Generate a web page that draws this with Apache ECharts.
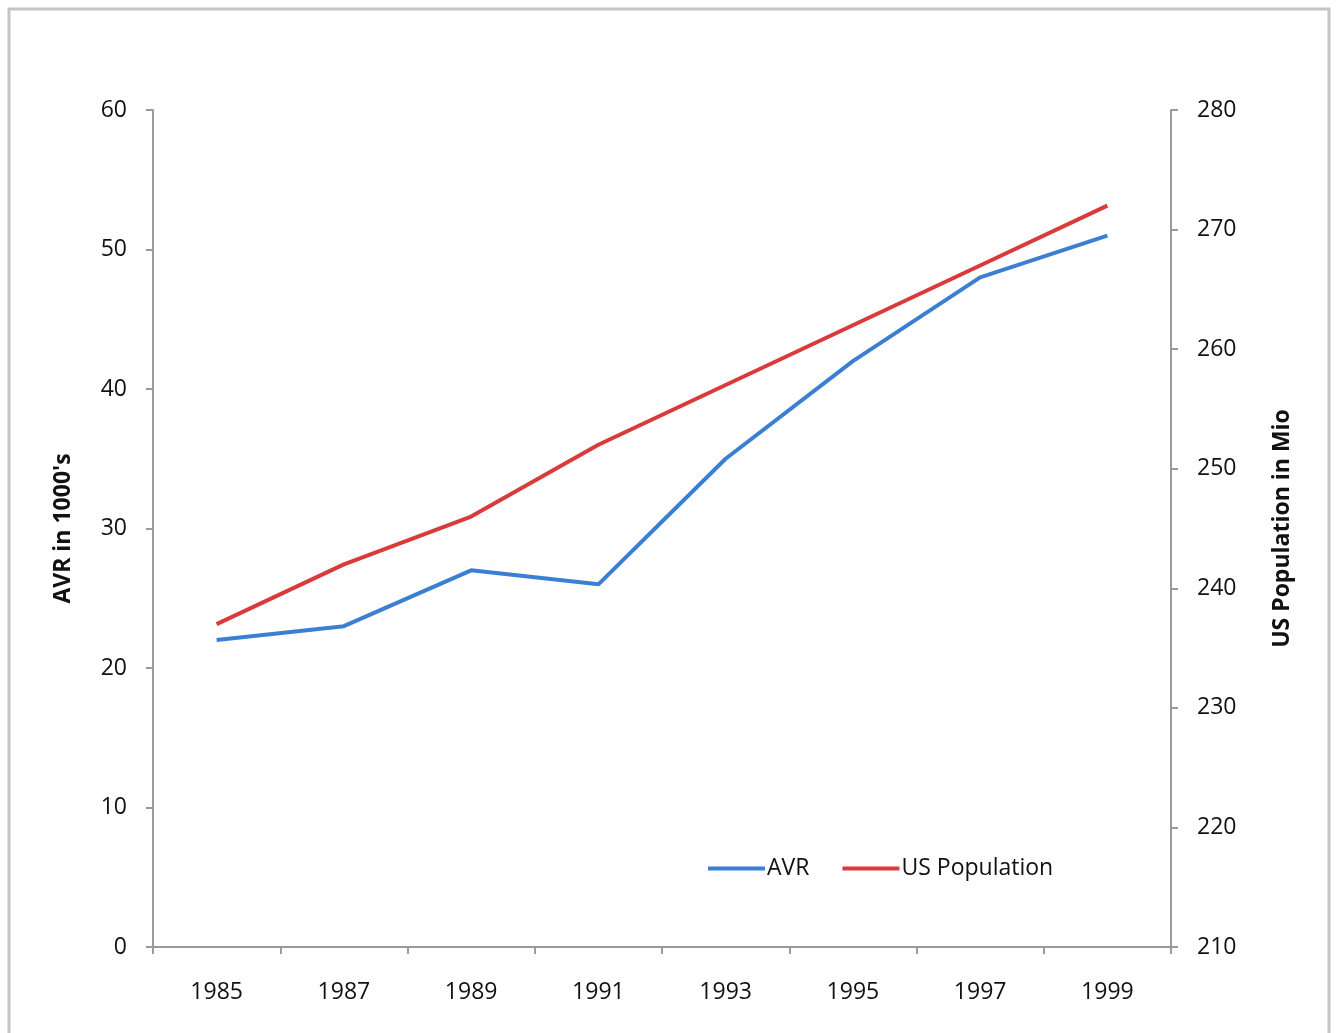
<!DOCTYPE html>
<html>
<head>
<meta charset="utf-8">
<title>AVR vs US Population</title>
<script src="https://cdn.jsdelivr.net/npm/echarts@6/dist/echarts.min.js"></script>
<style>
  html, body { margin: 0; padding: 0; background: #ffffff; }
  #chart { width: 1337px; height: 1033px; }
</style>
</head>
<body>
<div id="chart"></div>
<script>
// Years shown on the category axis
const years = ['1985', '1987', '1989', '1991', '1993', '1995', '1997', '1999'];
// AVR in thousands (left axis)
const avr = [22, 23, 27, 26, 35, 42, 48, 51];
// US population in millions (right axis)
const usPopulation = [237, 242, 246, 252, 257, 262, 267, 272];

const FONT = '"Open Sans", "Noto Sans", sans-serif';
const AXIS_GREY = '#9a9a9a';
const TEXT = '#111111';

const chart = echarts.init(document.getElementById('chart'), null, { renderer: 'canvas' });

chart.setOption({
  backgroundColor: '#ffffff',
  animation: false,
  textStyle: { fontFamily: FONT },
  graphic: [{
    type: 'rect',
    shape: { x: 9, y: 9, width: 1320, height: 1040 },
    style: { fill: 'none', stroke: '#c4c4c4', lineWidth: 3 },
    z: -1
  }],
  grid: { left: 153, right: 166, top: 110, bottom: 86, containLabel: false },
  legend: {
    left: 703,
    top: 852,
    itemWidth: 57,
    itemHeight: 4,
    itemGap: 33,
    icon: 'rect',
    textStyle: { fontFamily: FONT, fontSize: 23, color: TEXT, padding: [0, 0, 0, -3] },
    data: ['AVR', 'US Population']
  },
  xAxis: {
    type: 'category',
    data: years,
    boundaryGap: true,
    axisLine: { lineStyle: { color: AXIS_GREY, width: 2 } },
    axisTick: { show: true, alignWithLabel: false, length: 7, lineStyle: { color: AXIS_GREY, width: 2 } },
    axisLabel: { color: TEXT, fontSize: 23, fontFamily: FONT, margin: 34 },
    splitLine: { show: false }
  },
  yAxis: [{
    type: 'value',
    position: 'left',
    min: 0, max: 60, interval: 10,
    name: "AVR in 1000's",
    nameLocation: 'middle',
    nameGap: 78,
    nameRotate: 90,
    nameTextStyle: { color: TEXT, fontSize: 23, fontWeight: 'bold', fontFamily: FONT },
    axisLine: { show: true, lineStyle: { color: AXIS_GREY, width: 2 } },
    axisTick: { show: true, length: 7, lineStyle: { color: AXIS_GREY, width: 2 } },
    axisLabel: { color: TEXT, fontSize: 23, fontFamily: FONT, margin: 26 },
    splitLine: { show: false }
  }, {
    type: 'value',
    position: 'right',
    min: 210, max: 280, interval: 10,
    name: 'US Population in Mio',
    nameLocation: 'middle',
    nameGap: 100,
    nameRotate: 90,
    nameTextStyle: { color: TEXT, fontSize: 23, fontWeight: 'bold', fontFamily: FONT },
    axisLine: { show: true, lineStyle: { color: AXIS_GREY, width: 2 } },
    axisTick: { show: true, length: 7, lineStyle: { color: AXIS_GREY, width: 2 } },
    axisLabel: { color: TEXT, fontSize: 23, fontFamily: FONT, margin: 26 },
    splitLine: { show: false }
  }],
  series: [{
    name: 'AVR',
    type: 'line',
    yAxisIndex: 0,
    data: avr,
    symbol: 'none',
    color: '#3b7fd2',
    lineStyle: { color: '#3b7fd2', width: 4 }
  }, {
    name: 'US Population',
    type: 'line',
    yAxisIndex: 1,
    data: usPopulation,
    symbol: 'none',
    color: '#d93b3b',
    lineStyle: { color: '#d93b3b', width: 4 }
  }]
});
</script>
</body>
</html>
